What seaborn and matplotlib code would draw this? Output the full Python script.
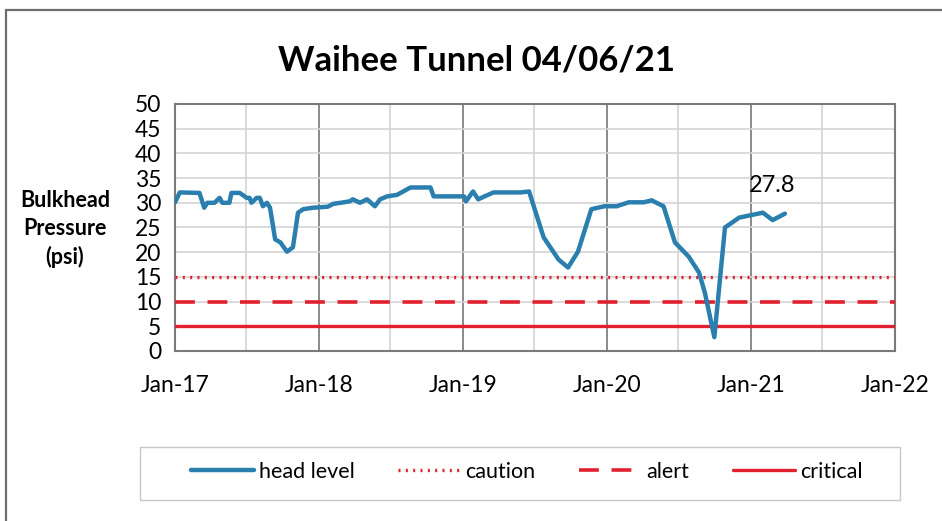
import matplotlib
matplotlib.use("Agg")
import matplotlib.pyplot as plt
import matplotlib.dates as mdates
import matplotlib.patches as mpatches
import seaborn as sns
import pandas as pd

# ---- data ----
dates = ["2017-01-01", "2017-01-13", "2017-03-04", "2017-03-16", "2017-03-24", "2017-04-11",
         "2017-04-24", "2017-05-01", "2017-05-19", "2017-05-24", "2017-06-14", "2017-07-02",
         "2017-07-09", "2017-07-14", "2017-07-27", "2017-08-04", "2017-08-12", "2017-08-22",
         "2017-08-30", "2017-09-12", "2017-09-25", "2017-10-12", "2017-10-27", "2017-11-09",
         "2017-11-22", "2017-12-17", "2018-01-23", "2018-02-07", "2018-02-25", "2018-03-20",
         "2018-03-28", "2018-04-15", "2018-05-03", "2018-05-23", "2018-06-05", "2018-06-23",
         "2018-07-18", "2018-08-03", "2018-08-21", "2018-10-11", "2018-10-19", "2019-01-04",
         "2019-01-09", "2019-01-27", "2019-02-09", "2019-02-25", "2019-03-20", "2019-05-28",
         "2019-06-18", "2019-07-25", "2019-09-01", "2019-09-25", "2019-10-20", "2019-11-23",
         "2019-12-26", "2020-01-26", "2020-02-26", "2020-04-04", "2020-04-24", "2020-05-24",
         "2020-06-22", "2020-07-27", "2020-08-22", "2020-09-06", "2020-09-30", "2020-10-27",
         "2020-12-02", "2021-01-31", "2021-02-25", "2021-03-28"]
head_level = [30.1, 32.1, 32.0, 29.0, 30.0, 30.0,
              31.0, 30.0, 30.0, 32.0, 32.0, 31.0,
              31.0, 30.0, 31.0, 31.0, 29.3, 30.0,
              29.0, 22.6, 22.0, 20.1, 21.0, 28.0,
              28.7, 29.0, 29.2, 29.8, 30.0, 30.3,
              30.7, 30.0, 30.7, 29.3, 30.7, 31.3,
              31.6, 32.3, 33.1, 33.1, 31.3, 31.3,
              30.3, 32.3, 30.7, 31.3, 32.1, 32.1,
              32.3, 23.0, 18.5, 16.9, 20.1, 28.7,
              29.3, 29.3, 30.1, 30.1, 30.5, 29.3,
              22.0, 19.1, 15.9, 11.8, 2.8, 25.0,
              27.0, 28.0, 26.5, 27.8]
threshold_dates = ["2017-01-01", "2022-01-01"]
caution = [15, 15]
alert = [10, 10]
critical = [5, 5]
x_ticks = ["2017-01-01", "2018-01-01", "2019-01-01", "2020-01-01", "2021-01-01", "2022-01-01"]
title = "Waihee Tunnel 04/06/21"
last_label = "27.8"

df_head = pd.DataFrame({"date": pd.to_datetime(dates), "value": head_level})
df_thr = pd.DataFrame({"date": pd.to_datetime(threshold_dates),
                       "caution": caution, "alert": alert, "critical": critical})

sns.set_theme(style="white")
plt.rcParams["font.family"] = ["Lato", "DejaVu Sans"]
plt.rcParams["text.color"] = "black"
plt.rcParams["xtick.labelcolor"] = "black"
plt.rcParams["ytick.labelcolor"] = "black"

fig = plt.figure(figsize=(9.42, 5.21), dpi=100)
ax = fig.add_axes([0.1858, 0.3263, 0.950 - 0.1858, 0.8004 - 0.3263])

blue = "#2a7fae"
red = "#e0202e"

sns.lineplot(data=df_head, x="date", y="value", ax=ax, color=blue, linewidth=3.2,
             label="head level", zorder=5)
sns.lineplot(data=df_thr, x="date", y="caution", ax=ax, color=red, linewidth=2.4,
             linestyle=(0, (0.6, 1.6)), label="caution", zorder=4)
sns.lineplot(data=df_thr, x="date", y="alert", ax=ax, color=red, linewidth=2.6,
             linestyle=(0, (5.5, 3.5)), label="alert", zorder=4)
sns.lineplot(data=df_thr, x="date", y="critical", ax=ax, color=red, linewidth=2.4,
             label="critical", zorder=4)

xt = pd.to_datetime(x_ticks)
ax.set_xlim(xt[0], xt[-1])
ax.set_ylim(0, 50)
ax.set_yticks(range(0, 51, 5))
ax.set_xticks(xt)
ax.xaxis.set_major_formatter(mdates.DateFormatter("%b-%y"))
ax.xaxis.set_minor_locator(mdates.MonthLocator(bymonth=7))
ax.grid(True, which="major", axis="y", color="#d4d4d4", linewidth=1.2)
ax.grid(True, which="major", axis="x", color="#8a8a8a", linewidth=1.4)
ax.grid(True, which="minor", axis="x", color="#d4d4d4", linewidth=1.2)
ax.set_xlabel("")
ax.set_ylabel("")
fig.text(65 / 942, 1 - 229 / 521, "Bulkhead\nPressure\n(psi)", fontsize=15.5,
         fontweight="bold", ha="center", va="center", linespacing=1.4, color="black")

for s in ax.spines.values():
    s.set_color("#7a7a7a")
    s.set_linewidth(1.5)
ax.tick_params(axis="both", which="major", labelsize=16.5, length=5, width=1.3,
               color="#7a7a7a", direction="out", pad=4, labelcolor="black")
ax.tick_params(axis="x", which="major", pad=11, length=6)
ax.tick_params(axis="x", which="minor", length=0)
ax.tick_params(axis="y", length=7, pad=3)

fig.text(476 / 942, 1 - 60 / 521, title, fontsize=25, fontweight="bold",
         ha="center", va="center", color="black")

last = df_head.iloc[-1]
ax.annotate(last_label, xy=(last["date"], last["value"]), xytext=(-9, 13),
            textcoords="offset points", fontsize=17, ha="center", va="bottom",
            color="black")

ax.legend_.remove()
handles, labels = ax.get_legend_handles_labels()
leg = fig.legend(handles, labels, loc="center", bbox_to_anchor=(527 / 942, 1 - 472 / 521),
                 ncol=4, frameon=False, fontsize=15.5, handlelength=2.9, handletextpad=0.25,
                 columnspacing=2.0)
for t in leg.get_texts():
    t.set_color("black")

# legend box
fig.patches.append(mpatches.Rectangle((140 / 942, 1 - 500 / 521), 760 / 942, 53 / 521,
                                      transform=fig.transFigure, fill=False,
                                      edgecolor="#c8c8c8", linewidth=1.0))
# outer chart border
fig.patches.append(mpatches.Rectangle((6 / 942, -0.01), 1.1, 1 - 10 / 521 + 0.01,
                                      transform=fig.transFigure, fill=False,
                                      edgecolor="#6e6e6e", linewidth=1.6))

fig.savefig("out.png", dpi=100)
